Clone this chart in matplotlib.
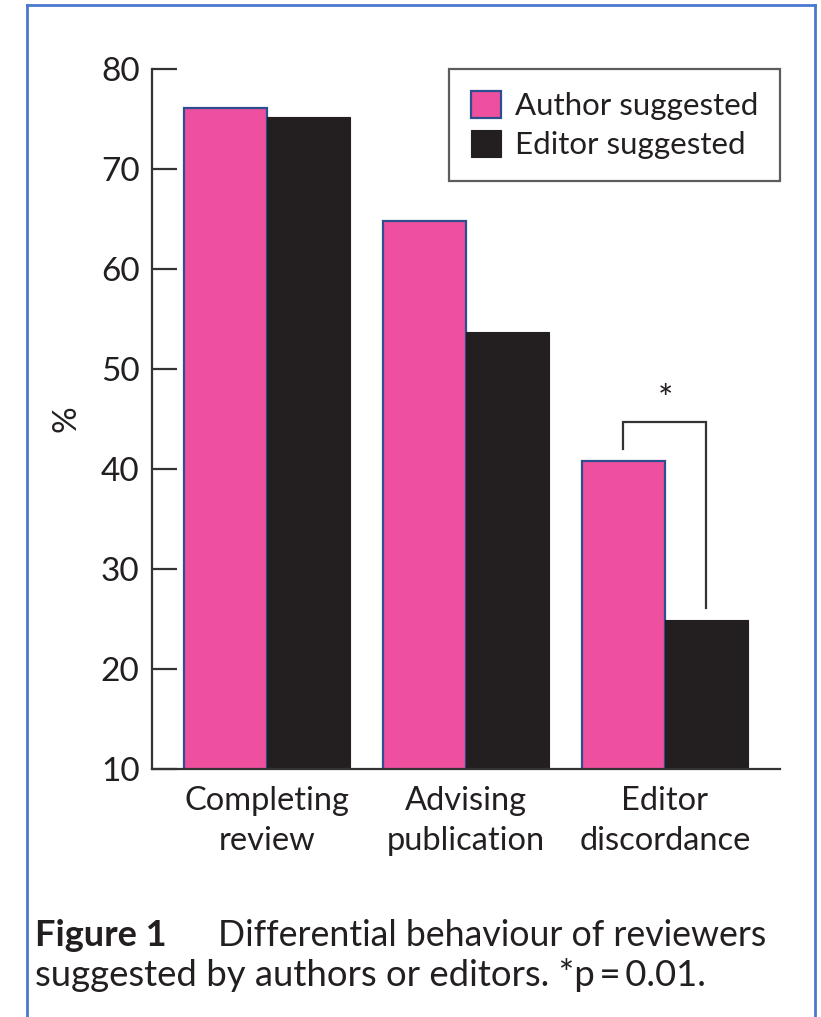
import matplotlib
matplotlib.use("Agg")
import matplotlib.pyplot as plt
from matplotlib.lines import Line2D
import numpy as np

categories = ["Completing\nreview", "Advising\npublication", "Editor\ndiscordance"]
author_suggested = [76.1, 64.8, 40.8]
editor_suggested = [75.2, 53.7, 24.9]
series_labels = ["Author suggested", "Editor suggested"]
y_ticks = [10, 20, 30, 40, 50, 60, 70, 80]
caption_bold = "Figure 1"
caption_rest = "Differential behaviour of reviewers"
caption_line2 = "suggested by authors or editors. *p\u2009=\u20090.01."

FONT = ["Lato", "DejaVu Sans"]
plt.rcParams['font.family'] = FONT

PINK = "#EE509F"
BLACK = "#231F20"
EDGE_BLUE = "#2E4F8F"
AXC = "#333333"
TEXTC = "#231F20"

fig = plt.figure(figsize=(8.21, 10.17), dpi=100)
fig.patch.set_facecolor("white")
ax = fig.add_axes([152/821, 248/1017, (780-152)/821, (769-69)/1017])

x = np.arange(len(categories))
w = 0.417
ax.bar(x - w/2, author_suggested, w, bottom=0, color=PINK, edgecolor=EDGE_BLUE,
       linewidth=1.6, label=series_labels[0], zorder=2)
ax.bar(x + w/2, editor_suggested, w, bottom=0, color=BLACK, edgecolor=BLACK,
       linewidth=0.8, label=series_labels[1], zorder=2)

ax.set_xlim(-0.578, 2.578)
ax.set_ylim(10, 80)
ax.set_yticks(y_ticks)
ax.set_yticklabels([str(t) for t in y_ticks], fontsize=24, color=TEXTC)
ax.set_xticks(x)
ax.set_xticklabels(categories, fontsize=23.5, color=TEXTC, linespacing=1.45)
ax.tick_params(axis='y', direction='in', length=18, width=1.6, color=AXC, pad=9)
ax.tick_params(axis='x', length=0, pad=12)
for s in ['top', 'right']:
    ax.spines[s].set_visible(False)
for s in ['left', 'bottom']:
    ax.spines[s].set_color(AXC)
    ax.spines[s].set_linewidth(1.6)
ax.set_ylabel("%", fontsize=24, color=TEXTC, labelpad=14)

# significance bracket on Editor discordance
i = 2
xl, xr = x[i] - w/2, x[i] + w/2
top = max(author_suggested[i], editor_suggested[i]) + 3.9
ax.plot([xl, xl, xr, xr], [author_suggested[i] + 1.2, top, top, editor_suggested[i] + 1.2],
        color=AXC, linewidth=1.6, zorder=3, solid_joinstyle='miter')
ax.text(x[i], top + 0.5, "*", ha='center', va='bottom', fontsize=26, color=TEXTC)

leg = ax.legend(loc='upper right', bbox_to_anchor=(1.0, 1.0), borderaxespad=0,
                fontsize=22.5, frameon=True, fancybox=False, handlelength=0.95,
                handleheight=0.95, handletextpad=0.45, labelspacing=0.32,
                borderpad=0.7)
leg.get_frame().set_edgecolor(AXC)
leg.get_frame().set_linewidth(1.6)
for t in leg.get_texts():
    t.set_color(TEXTC)

# caption
fig.text(35/821, 1 - 935/1017, caption_bold, fontsize=26, fontweight='bold',
         color=TEXTC, va='center', ha='left')
fig.text(218/821, 1 - 935/1017, caption_rest, fontsize=25.7, color=TEXTC,
         va='center', ha='left')
fig.text(35/821, 1 - 975/1017, caption_line2, fontsize=26.3, color=TEXTC,
         va='center', ha='left')

# blue page border
bc = "#4A78D0"
fig.add_artist(Line2D([27/821, 27/821], [0, 1 - 5/1017], transform=fig.transFigure, color=bc, linewidth=2))
fig.add_artist(Line2D([27/821, 815/821], [1 - 5/1017, 1 - 5/1017], transform=fig.transFigure, color=bc, linewidth=2))
fig.add_artist(Line2D([815/821, 815/821], [0, 1 - 5/1017], transform=fig.transFigure, color=bc, linewidth=2))

fig.savefig("out.png", dpi=100)
